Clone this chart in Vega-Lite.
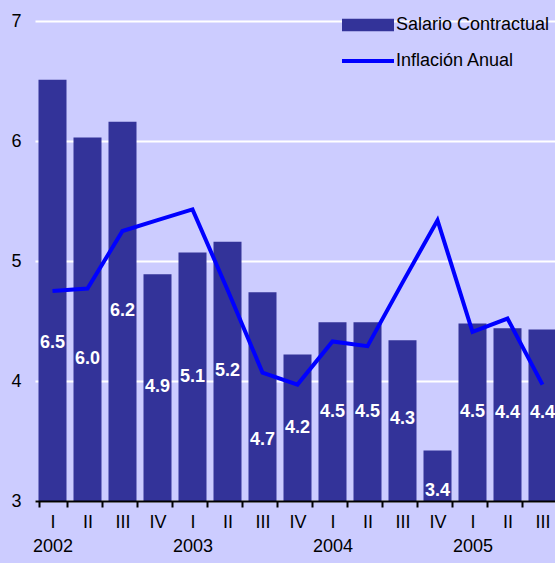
{
  "$schema": "https://vega.github.io/schema/vega-lite/v6.json",
  "autosize": {"type": "none"},
  "width": 520,
  "height": 480,
  "padding": {"left": 35, "top": 21, "right": 0, "bottom": 62},
  "background": "#CCCCFF",
  "config": {
    "view": {"stroke": null},
    "font": "Liberation Sans",
    "axis": {"labelFont": "Liberation Sans", "labelFontSize": 18, "labelColor": "#000000"},
    "legend": {"labelFont": "Liberation Sans", "labelFontSize": 18, "labelColor": "#000000", "padding": 0}
  },
  "data": {
    "values": [
      {"period": "2002-I", "salario": 6.51, "inflacion": 4.75, "lbl": 4.32},
      {"period": "2002-II", "salario": 6.03, "inflacion": 4.77, "lbl": 4.18},
      {"period": "2002-III", "salario": 6.16, "inflacion": 5.25, "lbl": 4.58},
      {"period": "2002-IV", "salario": 4.89, "inflacion": 5.34, "lbl": 3.95},
      {"period": "2003-I", "salario": 5.07, "inflacion": 5.43, "lbl": 4.03},
      {"period": "2003-II", "salario": 5.16, "inflacion": 4.76, "lbl": 4.08},
      {"period": "2003-III", "salario": 4.74, "inflacion": 4.07, "lbl": 3.51},
      {"period": "2003-IV", "salario": 4.22, "inflacion": 3.97, "lbl": 3.61},
      {"period": "2004-I", "salario": 4.49, "inflacion": 4.33, "lbl": 3.74},
      {"period": "2004-II", "salario": 4.49, "inflacion": 4.29, "lbl": 3.74},
      {"period": "2004-III", "salario": 4.34, "inflacion": 4.82, "lbl": 3.68},
      {"period": "2004-IV", "salario": 3.42, "inflacion": 5.34, "lbl": 3.08},
      {"period": "2005-I", "salario": 4.48, "inflacion": 4.41, "lbl": 3.74},
      {"period": "2005-II", "salario": 4.44, "inflacion": 4.52, "lbl": 3.73},
      {"period": "2005-III", "salario": 4.43, "inflacion": 3.97, "lbl": 3.73}
    ]
  },
  "encoding": {
    "x": {
      "field": "period",
      "type": "ordinal",
      "sort": null,
      "title": null,
      "scale": {"range": [0, 525], "paddingInner": 0.2, "paddingOuter": 0.1},
      "axis": {
        "labelAngle": 0,
        "labelExpr": "split(datum.value, '-')[1] == 'I' ? [split(datum.value, '-')[1], split(datum.value, '-')[0]] : split(datum.value, '-')[1]",
        "labelLineHeight": 24,
        "labelBaseline": "top",
        "labelPadding": 6,
        "tickBand": "extent",
        "tickSize": 6,
        "tickWidth": 2,
        "tickColor": "#000000",
        "domainColor": "#000000",
        "domainWidth": 2,
        "zindex": 1
      }
    }
  },
  "layer": [
    {
      "mark": {"type": "bar", "clip": true},
      "encoding": {
        "y": {
          "field": "salario",
          "type": "quantitative",
          "title": null,
          "scale": {"domain": [3, 7], "nice": false, "zero": false},
          "axis": {
            "values": [3, 4, 5, 6, 7],
            "format": "d",
            "domain": false,
            "ticks": false,
            "labelPadding": 14,
            "gridColor": "#FFFFFF",
            "gridWidth": 2,
            "gridOpacity": 1
          }
        },
        "y2": {"datum": 3},
        "fill": {
          "datum": "Salario Contractual",
          "type": "nominal",
          "scale": {"range": ["#333399"]},
          "legend": {
            "title": null,
            "orient": "none",
            "legendX": 324,
            "legendY": -5,
            "symbolType": "M-4,-0.95H4V0.95H-4Z",
            "symbolSize": 169,
            "symbolStrokeWidth": 0,
            "symbolOpacity": 1,
            "labelOffset": 19
          }
        }
      }
    },
    {
      "mark": {"type": "text", "color": "#FFFFFF", "fontWeight": "bold", "fontSize": 18, "align": "center", "baseline": "middle"},
      "encoding": {
        "y": {"field": "lbl", "type": "quantitative"},
        "text": {"field": "salario", "type": "quantitative", "format": ".1f"}
      }
    },
    {
      "mark": {"type": "line", "strokeWidth": 4, "clip": true},
      "encoding": {
        "y": {"field": "inflacion", "type": "quantitative"},
        "stroke": {
          "datum": "Inflación Anual",
          "type": "nominal",
          "scale": {"range": ["#0000FF"]},
          "legend": {
            "title": null,
            "orient": "none",
            "legendX": 324,
            "legendY": 31,
            "symbolType": "M-4,0H4",
            "symbolSize": 169,
            "symbolStrokeWidth": 4,
            "labelOffset": 19
          }
        }
      }
    }
  ]
}
